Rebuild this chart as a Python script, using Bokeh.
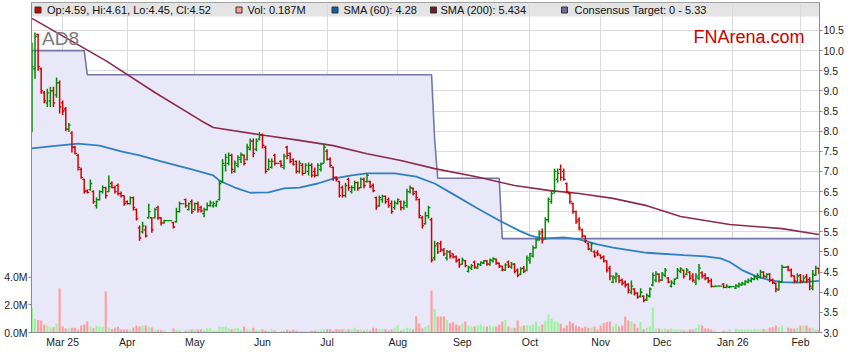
import pandas as pd
from bokeh.plotting import figure
from bokeh.models import (Range1d, LinearAxis, FixedTicker, PrintfTickFormatter,
                          Label, ColumnDataSource)
from bokeh.embed import file_html
from bokeh.resources import INLINE

# ---------------- data ----------------
TICKER_NAME = "AD8"
SOURCE_NAME = "FNArena.com"
DATES = pd.bdate_range("2025-02-17", "2026-02-10")   # one bar per weekday

OPEN = [
    8.00, 9.55, 10.40, 9.55, 8.95, 8.70, 8.75, 9.00, 8.90, 9.20,
    8.70, 8.55, 8.05, 7.95, 7.60, 7.40, 7.05, 6.80, 6.52, 6.55,
    6.50, 6.15, 6.30, 6.50, 6.60, 6.50, 6.70, 6.60, 6.65, 6.45,
    6.40, 6.25, 6.20, 6.35, 6.05, 5.60, 5.50, 5.55, 5.85, 5.85,
    5.85, 6.10, 5.85, 5.72, 5.78, 5.78, 5.73, 5.75, 6.00, 6.20,
    6.30, 6.05, 6.25, 6.05, 6.20, 6.10, 5.95, 6.05, 6.15, 6.15,
    6.15, 6.30, 6.75, 7.15, 7.20, 7.40, 7.00, 7.15, 7.30, 7.40,
    7.30, 7.55, 7.75, 7.55, 7.80, 7.90, 7.60, 7.05, 7.10, 7.40,
    7.20, 7.25, 7.10, 7.60, 7.45, 7.30, 7.25, 7.00, 7.15, 6.95,
    7.00, 7.15, 7.00, 6.90, 7.05, 7.20, 7.50, 7.30, 7.10, 6.85,
    6.75, 6.60, 6.40, 6.80, 6.50, 6.60, 6.72, 6.60, 6.80, 6.75,
    6.75, 6.65, 6.35, 6.15, 6.30, 6.38, 6.30, 6.20, 6.10, 6.20,
    6.25, 6.10, 6.15, 6.50, 6.58, 6.50, 6.30, 5.85, 5.70, 5.90,
    5.80, 4.85, 5.20, 5.20, 5.05, 4.85, 5.00, 4.95, 4.88, 4.80,
    4.70, 4.78, 4.52, 4.60, 4.75, 4.60, 4.68, 4.72, 4.78, 4.70,
    4.78, 4.82, 4.72, 4.65, 4.55, 4.75, 4.62, 4.70, 4.55, 4.45,
    4.60, 4.55, 4.80, 4.90, 5.10, 5.30, 5.50, 5.35, 5.80, 6.25,
    6.50, 6.80, 7.05, 7.00, 6.70, 6.45, 6.20, 6.00, 5.80, 5.55,
    5.40, 5.20, 5.05, 5.00, 4.98, 4.92, 4.88, 4.78, 4.60, 4.25,
    4.35, 4.40, 4.30, 4.25, 4.20, 4.00, 4.08, 3.98, 3.90, 3.90,
    3.82, 3.90, 4.18, 4.30, 4.45, 4.30, 4.42, 4.35, 4.15, 4.22,
    4.35, 4.52, 4.55, 4.45, 4.50, 4.40, 4.25, 4.35, 4.48, 4.42,
    4.35, 4.28, 4.14, 4.15, 4.15, 4.20, 4.12, 4.12, 4.14, 4.10,
    4.14, 4.18, 4.20, 4.25, 4.28, 4.32, 4.35, 4.38, 4.50, 4.38,
    4.45, 4.30, 4.22, 4.05, 4.25, 4.62, 4.62, 4.55, 4.40, 4.26,
    4.42, 4.25, 4.38, 4.32, 4.10, 4.42, 4.59,
]
HIGH = [
    10.20, 10.45, 10.42, 9.58, 9.00, 9.05, 9.10, 9.10, 9.33, 9.26,
    8.76, 8.60, 8.20, 8.00, 7.64, 7.44, 7.10, 6.82, 6.55, 6.80,
    6.53, 6.35, 6.53, 6.65, 6.62, 6.90, 6.75, 6.65, 6.70, 6.50,
    6.40, 6.28, 6.38, 6.38, 6.08, 5.66, 5.75, 5.66, 6.20, 5.86,
    6.10, 6.15, 5.86, 5.80, 5.78, 5.78, 5.75, 6.10, 6.25, 6.20,
    6.33, 6.23, 6.30, 6.23, 6.25, 6.15, 6.10, 6.23, 6.28, 6.25,
    6.28, 6.77, 7.30, 7.44, 7.47, 7.44, 7.27, 7.40, 7.47, 7.42,
    7.69, 7.82, 7.82, 7.82, 7.97, 7.94, 7.64, 7.32, 7.32, 7.44,
    7.20, 7.28, 7.44, 7.64, 7.47, 7.32, 7.27, 7.27, 7.20, 7.20,
    7.22, 7.20, 7.10, 7.20, 7.22, 7.69, 7.55, 7.35, 7.12, 6.88,
    6.77, 6.65, 6.72, 6.85, 6.65, 6.77, 6.75, 6.85, 6.85, 6.95,
    6.77, 6.70, 6.38, 6.40, 6.42, 6.40, 6.35, 6.28, 6.28, 6.33,
    6.28, 6.28, 6.57, 6.65, 6.60, 6.52, 6.33, 5.90, 6.00, 6.15,
    5.85, 5.28, 5.25, 5.28, 5.10, 5.05, 5.04, 4.96, 4.91, 4.84,
    4.86, 4.80, 4.66, 4.70, 4.79, 4.72, 4.76, 4.80, 4.80, 4.84,
    4.86, 4.84, 4.74, 4.66, 4.72, 4.79, 4.75, 4.72, 4.59, 4.62,
    4.65, 4.91, 4.98, 5.16, 5.33, 5.53, 5.58, 5.86, 6.35, 6.52,
    7.07, 7.07, 7.17, 7.07, 6.72, 6.48, 6.23, 6.03, 5.86, 5.58,
    5.41, 5.23, 5.25, 5.04, 5.04, 4.94, 4.91, 4.79, 4.66, 4.42,
    4.49, 4.42, 4.34, 4.29, 4.22, 4.29, 4.10, 4.00, 4.10, 3.92,
    3.97, 4.12, 4.49, 4.52, 4.47, 4.50, 4.60, 4.38, 4.30, 4.35,
    4.60, 4.62, 4.56, 4.60, 4.52, 4.47, 4.47, 4.70, 4.52, 4.47,
    4.38, 4.34, 4.16, 4.15, 4.15, 4.22, 4.20, 4.16, 4.14, 4.20,
    4.24, 4.26, 4.30, 4.34, 4.37, 4.42, 4.47, 4.56, 4.52, 4.47,
    4.47, 4.34, 4.24, 4.29, 4.68, 4.62, 4.66, 4.59, 4.42, 4.47,
    4.45, 4.42, 4.45, 4.37, 4.55, 4.66, 4.61,
]
LOW = [
    7.97, 9.30, 9.50, 8.93, 8.69, 8.60, 8.60, 8.60, 8.83, 8.44,
    8.40, 8.00, 7.98, 7.47, 7.42, 7.02, 6.82, 6.45, 6.45, 6.52,
    6.20, 6.08, 6.28, 6.45, 6.33, 6.48, 6.58, 6.45, 6.40, 6.35,
    6.15, 6.18, 6.18, 6.03, 5.78, 5.28, 5.46, 5.36, 5.83, 5.48,
    5.83, 5.80, 5.66, 5.70, 5.78, 5.78, 5.58, 5.73, 5.98, 6.20,
    6.10, 6.03, 5.95, 6.03, 5.98, 5.98, 5.86, 6.03, 6.12, 6.10,
    6.12, 6.28, 6.72, 7.00, 7.15, 6.95, 6.97, 7.10, 7.20, 7.15,
    7.27, 7.52, 7.35, 7.50, 7.77, 7.57, 6.95, 7.02, 7.07, 7.15,
    7.20, 7.10, 7.05, 7.30, 7.20, 7.15, 6.95, 6.95, 6.90, 6.95,
    6.90, 6.85, 6.85, 6.88, 7.00, 7.20, 7.27, 7.10, 6.77, 6.75,
    6.35, 6.35, 6.35, 6.52, 6.45, 6.52, 6.52, 6.58, 6.58, 6.72,
    6.58, 6.48, 6.05, 6.12, 6.22, 6.20, 6.10, 5.95, 6.05, 6.18,
    6.03, 6.05, 6.10, 6.45, 6.40, 6.28, 5.83, 5.58, 5.68, 5.83,
    4.74, 4.79, 4.95, 5.00, 4.90, 4.79, 4.84, 4.84, 4.74, 4.61,
    4.68, 4.62, 4.49, 4.55, 4.58, 4.58, 4.65, 4.70, 4.66, 4.66,
    4.74, 4.68, 4.60, 4.52, 4.53, 4.60, 4.58, 4.47, 4.37, 4.42,
    4.48, 4.52, 4.71, 4.86, 5.09, 5.28, 5.21, 5.30, 5.73, 6.20,
    6.45, 6.72, 6.77, 6.77, 6.45, 6.20, 5.95, 5.70, 5.53, 5.35,
    5.22, 5.04, 5.00, 4.86, 4.90, 4.82, 4.74, 4.49, 4.30, 4.22,
    4.24, 4.22, 4.17, 4.12, 3.97, 3.95, 3.92, 3.84, 3.87, 3.75,
    3.78, 3.87, 4.15, 4.25, 4.24, 4.28, 4.37, 4.22, 4.12, 4.18,
    4.33, 4.47, 4.34, 4.42, 4.30, 4.25, 4.18, 4.30, 4.34, 4.30,
    4.22, 4.12, 4.13, 4.15, 4.15, 4.10, 4.10, 4.10, 4.14, 4.08,
    4.12, 4.16, 4.17, 4.22, 4.24, 4.30, 4.30, 4.34, 4.35, 4.35,
    4.25, 4.20, 4.00, 4.04, 4.24, 4.62, 4.52, 4.37, 4.22, 4.24,
    4.22, 4.22, 4.22, 4.05, 4.05, 4.40, 4.45,
]
CLOSE = [
    9.60, 10.35, 9.60, 9.00, 8.75, 8.95, 9.00, 8.70, 9.20, 8.60,
    8.50, 8.05, 8.15, 7.60, 7.45, 7.10, 6.85, 6.50, 6.48, 6.70,
    6.25, 6.30, 6.50, 6.60, 6.40, 6.62, 6.60, 6.50, 6.45, 6.40,
    6.20, 6.20, 6.35, 6.10, 5.82, 5.35, 5.65, 5.40, 6.00, 5.55,
    6.05, 5.85, 5.72, 5.78, 5.78, 5.78, 5.62, 6.00, 6.20, 6.20,
    6.15, 6.20, 6.00, 6.20, 6.05, 6.02, 6.05, 6.15, 6.22, 6.20,
    6.25, 6.70, 7.20, 7.35, 7.40, 7.05, 7.20, 7.35, 7.42, 7.20,
    7.60, 7.75, 7.45, 7.75, 7.90, 7.65, 7.00, 7.25, 7.25, 7.20,
    7.20, 7.15, 7.38, 7.40, 7.25, 7.18, 7.00, 7.20, 6.95, 7.15,
    7.15, 6.90, 6.90, 7.15, 7.18, 7.60, 7.30, 7.15, 6.85, 6.80,
    6.40, 6.40, 6.65, 6.60, 6.60, 6.72, 6.58, 6.80, 6.65, 6.90,
    6.62, 6.52, 6.12, 6.35, 6.38, 6.25, 6.15, 6.00, 6.22, 6.30,
    6.10, 6.22, 6.50, 6.60, 6.45, 6.35, 5.90, 5.65, 5.90, 6.10,
    4.80, 5.15, 5.00, 5.05, 4.95, 5.00, 4.90, 4.88, 4.78, 4.68,
    4.80, 4.66, 4.62, 4.66, 4.62, 4.70, 4.74, 4.78, 4.70, 4.80,
    4.84, 4.72, 4.65, 4.56, 4.68, 4.65, 4.70, 4.52, 4.42, 4.58,
    4.52, 4.85, 4.95, 5.10, 5.30, 5.45, 5.30, 5.80, 6.30, 6.45,
    7.00, 6.95, 6.85, 6.80, 6.50, 6.25, 6.00, 5.75, 5.60, 5.40,
    5.28, 5.08, 5.20, 4.90, 4.95, 4.86, 4.78, 4.55, 4.40, 4.38,
    4.45, 4.28, 4.22, 4.18, 4.05, 4.15, 3.98, 3.88, 4.00, 3.80,
    3.92, 4.08, 4.42, 4.45, 4.30, 4.45, 4.55, 4.25, 4.25, 4.32,
    4.55, 4.58, 4.40, 4.55, 4.35, 4.30, 4.40, 4.60, 4.40, 4.35,
    4.28, 4.15, 4.15, 4.15, 4.15, 4.12, 4.15, 4.14, 4.14, 4.17,
    4.20, 4.22, 4.27, 4.30, 4.34, 4.38, 4.42, 4.50, 4.40, 4.44,
    4.30, 4.24, 4.08, 4.25, 4.62, 4.62, 4.55, 4.42, 4.28, 4.40,
    4.28, 4.35, 4.30, 4.15, 4.45, 4.60, 4.52,
]
VOLUME_M = [
    1.78, 0.99, 0.91, 0.87, 0.58, 0.48, 0.38, 0.38, 0.65, 3.18,
    0.43, 0.29, 0.29, 0.34, 0.34, 0.22, 0.50, 0.58, 0.80, 0.43,
    0.31, 0.48, 0.43, 0.43, 2.96, 0.36, 0.26, 0.36, 0.41, 0.22,
    0.22, 0.22, 0.22, 0.36, 0.50, 0.43, 0.50, 0.50, 0.43, 0.36,
    0.19, 0.17, 0.17, 0.17, 0.00, 0.00, 0.29, 0.19, 0.19, 0.00,
    0.14, 0.22, 0.22, 0.22, 0.22, 0.22, 0.17, 0.31, 0.31, 0.14,
    0.14, 0.43, 0.39, 0.43, 0.31, 0.24, 0.29, 0.34, 0.19, 0.43,
    0.24, 0.14, 0.34, 0.19, 0.17, 0.24, 0.14, 0.10, 0.24, 0.14,
    0.00, 0.07, 0.14, 0.19, 0.14, 0.19, 0.14, 0.10, 0.07, 0.10,
    0.10, 0.12, 0.14, 0.14, 0.19, 0.24, 0.24, 0.24, 0.14, 0.24,
    0.22, 0.24, 0.24, 0.24, 0.19, 0.34, 0.19, 0.19, 0.14, 0.24,
    0.14, 0.34, 0.29, 0.24, 0.24, 0.24, 0.14, 0.24, 0.34, 0.53,
    0.14, 0.24, 0.34, 0.31, 0.22, 1.18, 0.65, 0.29, 0.41, 0.55,
    3.03, 1.71, 1.16, 1.16, 1.16, 0.91, 0.67, 0.75, 0.58, 0.50,
    0.63, 0.80, 0.50, 0.43, 0.43, 0.50, 0.58, 0.43, 0.43, 0.50,
    0.43, 0.43, 0.58, 0.80, 0.91, 0.43, 0.34, 0.34, 0.87, 0.43,
    0.50, 0.50, 0.50, 0.58, 0.80, 0.43, 0.58, 0.87, 1.30, 0.99,
    0.80, 0.75, 0.63, 0.34, 0.50, 0.80, 0.67, 0.50, 0.43, 0.34,
    0.43, 0.34, 0.34, 0.43, 0.22, 0.50, 0.67, 0.75, 0.80, 0.43,
    0.63, 0.43, 0.50, 1.16, 0.87, 0.80, 0.63, 0.34, 0.75, 0.26,
    0.34, 0.43, 1.80, 0.29, 0.29, 0.22, 0.29, 0.22, 0.29, 0.22,
    0.22, 0.22, 0.14, 0.14, 0.22, 0.22, 0.34, 0.58, 0.50, 0.29,
    0.29, 0.22, 0.14, 0.00, 0.00, 0.14, 0.10, 0.26, 0.00, 0.29,
    0.22, 0.22, 0.22, 0.22, 0.22, 0.26, 0.22, 0.22, 0.26, 0.22,
    0.34, 0.38, 0.50, 0.38, 0.50, 0.00, 0.34, 0.29, 0.29, 0.34,
    0.50, 0.50, 0.50, 0.34, 0.34, 0.22, 0.187,
]

SMA60_DAY = [0, 6, 15, 22, 29, 35, 42, 52, 59, 61, 63, 66, 71, 77, 82, 87, 93, 98,
             104, 109, 118, 125, 131, 136, 145, 152, 159, 162, 166, 173, 178, 184,
             189, 200, 212, 219, 224, 227, 231, 236, 240, 244, 249, 256]
SMA60_VAL = [7.57, 7.62, 7.69, 7.64, 7.50, 7.40, 7.25, 7.05, 6.90, 6.77, 6.70, 6.60,
             6.47, 6.48, 6.58, 6.60, 6.70, 6.82, 6.90, 6.95, 6.95, 6.87, 6.70, 6.48,
             6.08, 5.78, 5.51, 5.41, 5.33, 5.36, 5.31, 5.19, 5.11, 4.98, 4.92, 4.89,
             4.84, 4.75, 4.55, 4.38, 4.30, 4.25, 4.24, 4.28]

SMA200_DAY = [0, 24, 40, 55, 59, 76, 87, 98, 109, 120, 131, 145, 157, 168, 178, 189,
              200, 211, 227, 244, 256]
SMA200_VAL = [10.80, 9.75, 8.96, 8.26, 8.09, 7.89, 7.77, 7.64, 7.44, 7.27, 7.07, 6.86,
              6.65, 6.53, 6.45, 6.33, 6.15, 5.88, 5.68, 5.58, 5.434]

TARGET_DAY = [0, 17, 18, 130, 131, 132, 152, 153, 256]
TARGET_VAL = [10.0, 10.0, 9.4, 9.4, 7.8, 6.83, 6.83, 5.33, 5.33]

MONTH_LABELS = ["Mar 25", "Apr", "May", "Jun", "Jul", "Aug", "Sep", "Oct", "Nov",
                "Dec", "Jan 26", "Feb"]
PRICE_TICKS = [3.0, 3.5, 4.0, 4.5, 5.0, 5.5, 6.0, 6.5, 7.0, 7.5, 8.0, 8.5, 9.0,
               9.5, 10.0, 10.5]
VOLUME_TICKS = [0.0, 2.0, 4.0]

n = len(DATES)
assert all(len(a) == n for a in (OPEN, HIGH, LOW, CLOSE, VOLUME_M))

# ---------------- styling / layout ----------------
FONT = "Liberation Sans"
UP, DOWN = "#008A00", "#D40000"
VOL_UP, VOL_DOWN, VOL_FLAT = "#9CF59C", "#FF9C9C", "#7F7F7F"
SMA60_COLOR, SMA200_COLOR = "#2F80C0", "#8E2A4C"
TARGET_LINE, TARGET_FILL = "#7676A8", "#E8E8F8"
GRID = "#DADADA"
AXIS = "#8C8C8C"

W, H = 851, 355
BL, BR, BT, BB = 31, 32, 2, 23
frame_w = W - BL - BR
frame_h = H - BT - BB
PX_PRICE = 40.27          # pixels per 1.0 of price
PX_VOL = 13.85            # pixels per 1M shares
y0 = 3.0
y1 = y0 + frame_h / PX_PRICE
x0, x1 = -0.15, n - 0.8
PXD = frame_w / (x1 - x0)
FL = BL
FB = BT + frame_h


def dx(px):
    return x0 + (px - FL) / PXD


def dy(py):
    return y0 + (FB - py) / PX_PRICE


p = figure(width=W, height=H, x_range=Range1d(x0, x1), y_range=Range1d(y0, y1),
           y_axis_location="right", output_backend="svg", toolbar_location=None,
           min_border_left=BL, min_border_right=BR, min_border_top=BT,
           min_border_bottom=BB)
p.background_fill_color = "white"
p.border_fill_color = "white"
p.outline_line_color = AXIS
p.extra_y_ranges = {"vol": Range1d(0, frame_h / PX_VOL)}

month_idx = [i for i in range(1, n) if DATES[i].month != DATES[i - 1].month]

pax = p.right[0]
pax.ticker = FixedTicker(ticks=PRICE_TICKS)
pax.formatter = PrintfTickFormatter(format="%.1f")
xax = p.below[0]
xax.ticker = FixedTicker(ticks=month_idx)
xax.major_label_overrides = {i: lab for i, lab in zip(month_idx, MONTH_LABELS)}
vax = LinearAxis(y_range_name="vol", ticker=FixedTicker(ticks=VOLUME_TICKS),
                 formatter=PrintfTickFormatter(format="%.1fM"))
p.add_layout(vax, "left")

for ax in (pax, xax, vax):
    ax.axis_line_color = AXIS
    ax.major_tick_line_color = AXIS
    ax.minor_tick_line_color = None
    ax.major_tick_in = 0
    ax.major_tick_out = 3
    ax.major_label_standoff = 1
    ax.major_label_text_font = FONT
    ax.major_label_text_font_size = "10.5px"
    ax.major_label_text_color = "#222222"
xax.major_tick_out = 0
xax.major_label_standoff = 3

p.xgrid.ticker = FixedTicker(ticks=month_idx)
p.ygrid.ticker = FixedTicker(ticks=PRICE_TICKS)
p.grid.grid_line_color = GRID

# header strip (behind grid)
p.quad(left=x0, right=x1, bottom=dy(BT + 14), top=y1,
       fill_color="#E4E4E4", line_color=None, level="image")

# consensus target band
p.varea(x=TARGET_DAY, y1=y0, y2=TARGET_VAL, fill_color=TARGET_FILL)

idx = list(range(n))
bar_col = [UP if c >= o else DOWN for o, c in zip(OPEN, CLOSE)]
vol_col = [VOL_UP if c > o else (VOL_DOWN if c < o else VOL_FLAT)
           for o, c in zip(OPEN, CLOSE)]
src = ColumnDataSource(dict(
    x=idx, xl=[i - 0.6 for i in idx], xr=[i + 0.6 for i in idx],
    o=OPEN, h=HIGH, l=LOW, c=CLOSE, col=bar_col, vol=VOLUME_M, vcol=vol_col))

p.vbar(x="x", top="vol", bottom=0, width=0.68, fill_color="vcol",
       line_color=None, y_range_name="vol", source=src)

p.line(TARGET_DAY, TARGET_VAL, line_color=TARGET_LINE, line_width=1.6)
p.line(SMA200_DAY, SMA200_VAL, line_color=SMA200_COLOR, line_width=1.6)
p.line(SMA60_DAY, SMA60_VAL, line_color=SMA60_COLOR, line_width=1.8)

p.segment(x0="x", y0="l", x1="x", y1="h", line_color="col", line_width=1.5, source=src)
p.segment(x0="xl", y0="o", x1="x", y1="o", line_color="col", line_width=1.3, source=src)
p.segment(x0="x", y0="c", x1="xr", y1="c", line_color="col", line_width=1.3, source=src)

# watermarks
p.add_layout(Label(x=dx(41.5), y=dy(38.3), text=TICKER_NAME, text_font=FONT,
                   text_font_size="19px", text_color="#7A7A7A",
                   text_baseline="alphabetic"))
p.add_layout(Label(x=dx(693), y=dy(36.7), text=SOURCE_NAME, text_font=FONT,
                   text_font_size="18px", text_color="#CC0000",
                   text_baseline="alphabetic"))

# header legend
legend_texts = [
    f"Op:{OPEN[-1]:.2f}, Hi:{HIGH[-1]:.2f}, Lo:{LOW[-1]:.2f}, Cl:{CLOSE[-1]:.2f}",
    f"Vol: {VOLUME_M[-1]:.3f}M",
    f"SMA (60): {SMA60_VAL[-1]:.2f}",
    f"SMA (200): {SMA200_VAL[-1]:.3f}",
    f"Consensus Target: 0 - {TARGET_VAL[-1]:.2f}",
]
legend_colors = [DOWN, "#FF9999", "#0A64A8", "#7A1432", "#6A6A9C"]
sq_px = [37.5, 238.5, 334.5, 433, 564]
tx_px = [46.5, 247, 343, 440, 574]
ly = dy(BT + 7.5)
p.rect(x=[dx(v) for v in sq_px], y=[ly] * 5, width=6, height=6,
       width_units="screen", height_units="screen", fill_color=legend_colors,
       line_color="#333333", line_width=1)
for t, px in zip(legend_texts, tx_px):
    p.add_layout(Label(x=dx(px), y=ly, text=t, text_font=FONT, text_font_size="11px",
                       text_color="#111111", text_baseline="middle"))

open("out.html", "w").write(file_html(p, INLINE))
